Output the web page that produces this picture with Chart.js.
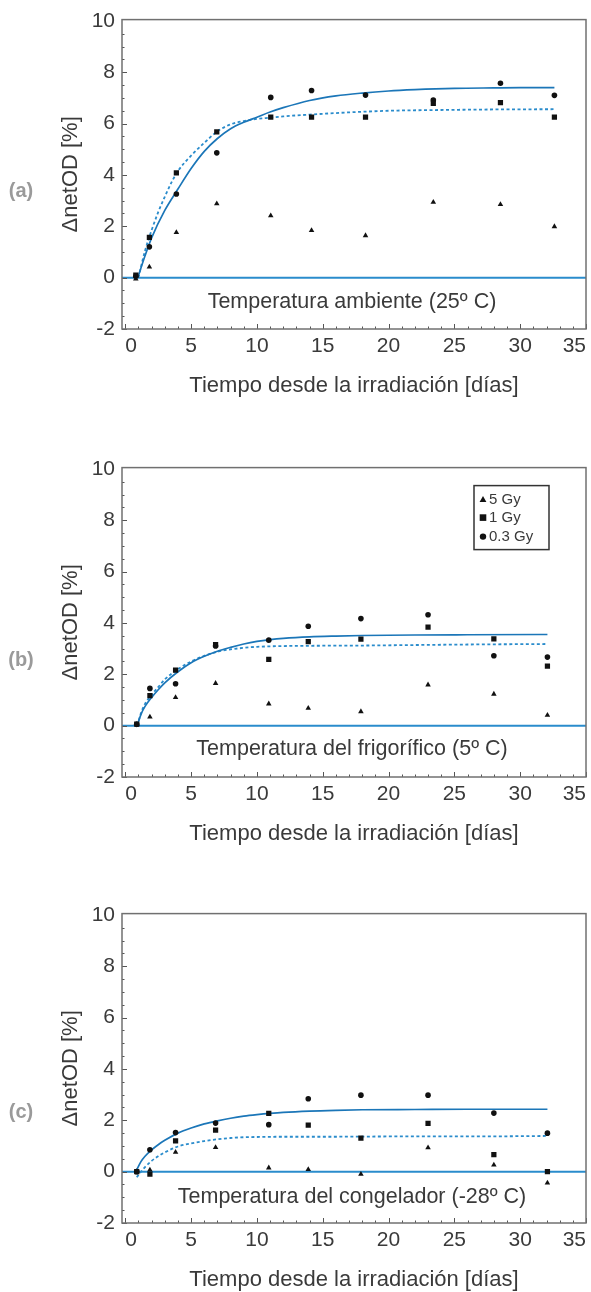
<!DOCTYPE html>
<html><head><meta charset="utf-8">
<script src="https://cdn.jsdelivr.net/npm/chart.js@4/dist/chart.umd.min.js"></script>
<style>
html,body{margin:0;padding:0;background:#fff;width:591px;height:1292px;overflow:hidden;}
canvas{position:absolute;left:0;}
</style></head><body>
<canvas id="ca" width="591" height="400" style="top:0px;width:591px;height:400px"></canvas>
<canvas id="cb" width="591" height="400" style="top:448px;width:591px;height:400px"></canvas>
<canvas id="cc" width="591" height="400" style="top:894px;width:591px;height:400px"></canvas>
<script>
// ---------- tick labels / text ----------
const xTicks = [0, 5, 10, 15, 20, 25, 30, 35];
const yTicks = [-2, 0, 2, 4, 6, 8, 10];
const seriesNames = ['5 Gy', '1 Gy', '0.3 Gy'];
const xTitle = 'Tiempo desde la irradiación [días]';
const yTitle = 'ΔnetOD [%]';

// ---------- panel (a) ----------
const daysA  = [0.8, 1.83, 3.88, 6.95, 11.05, 14.15, 18.25, 23.4, 28.5, 32.6];
const gy5A   = [-0.05, 0.42, 1.76, 2.88, 2.41, 1.84, 1.64, 2.94, 2.85, 1.99];
const gy1A   = [0.1, 1.57, 4.08, 5.68, 6.25, 6.25, 6.25, 6.79, 6.82, 6.25];
const gy03A  = [0.05, 1.2, 3.26, 4.86, 7.02, 7.29, 7.11, 6.92, 7.57, 7.1];
const fitXA03 = [0.95, 1.5, 2, 3, 4, 5, 6, 7, 8, 9, 10, 11, 12, 14, 16, 18, 20, 22, 25, 28, 30, 32.6];
const fitYA03 = [0, 0.85, 1.55, 2.62, 3.45, 4.25, 4.92, 5.42, 5.8, 6.05, 6.25, 6.45, 6.62, 6.9, 7.08, 7.19, 7.27, 7.32, 7.37, 7.39, 7.4, 7.4];
const fitXA1 = [1.0, 1.5, 2, 2.5, 3, 3.5, 4, 5, 6, 7, 8, 9, 10, 11, 12, 14, 16, 18, 20, 24, 28, 32.6];
const fitYA1 = [0, 1.05, 1.85, 2.55, 3.15, 3.7, 4.15, 4.75, 5.25, 5.7, 5.97, 6.1, 6.18, 6.23, 6.28, 6.35, 6.41, 6.46, 6.5, 6.53, 6.55, 6.56];

// ---------- panel (b) ----------
const daysB  = [0.87, 1.87, 3.82, 6.86, 10.9, 13.9, 17.9, 23.0, 28.0, 32.07];
const gy5B   = [0.05, 0.34, 1.1, 1.65, 0.85, 0.68, 0.55, 1.59, 1.23, 0.41];
const gy1B   = [0.06, 1.17, 2.16, 3.16, 2.58, 3.27, 3.37, 3.84, 3.38, 2.32];
const gy03B  = [0.05, 1.45, 1.63, 3.1, 3.33, 3.87, 4.17, 4.32, 2.72, 2.67];
const fitXB03 = [0.9, 1.2, 1.5, 2, 2.5, 3, 4, 5, 6, 7, 8, 9, 10, 11, 12, 14, 16, 18, 22, 26, 32.07];
const fitYB03 = [0, 0.45, 0.75, 1.1, 1.4, 1.67, 2.1, 2.45, 2.7, 2.9, 3.05, 3.18, 3.28, 3.35, 3.4, 3.46, 3.49, 3.51, 3.53, 3.54, 3.55];
const fitXB1 = [0.9, 1.2, 1.5, 2, 2.5, 3, 4, 5, 6, 7, 8, 9, 10, 12, 14, 18, 22, 26, 32.07];
const fitYB1 = [0, 0.5, 0.85, 1.2, 1.5, 1.8, 2.2, 2.5, 2.72, 2.88, 2.97, 3.03, 3.07, 3.1, 3.11, 3.12, 3.14, 3.16, 3.18];

// ---------- panel (c) ----------
const daysC  = [0.87, 1.87, 3.82, 6.86, 10.9, 13.9, 17.9, 23.0, 28.0, 32.07];
const gy5C   = [0.0, 0.07, 0.76, 0.94, 0.15, 0.09, -0.1, 0.93, 0.26, -0.44];
const gy1C   = [0.0, -0.1, 1.2, 1.62, 2.27, 1.81, 1.31, 1.88, 0.66, 0.0];
const gy03C  = [0.0, 0.85, 1.52, 1.89, 1.83, 2.84, 2.98, 2.98, 2.28, 1.5];
const fitXC03 = [0.8, 1.2, 1.5, 2, 2.5, 3, 4, 5, 6, 7, 8, 9, 10, 11, 12, 14, 16, 18, 22, 26, 32.07];
const fitYC03 = [0, 0.4, 0.6, 0.85, 1.05, 1.22, 1.5, 1.7, 1.86, 1.98, 2.08, 2.16, 2.22, 2.27, 2.31, 2.36, 2.39, 2.41, 2.42, 2.43, 2.43];
const fitXC1 = [0.87, 1.2, 1.5, 2, 2.5, 3, 4, 5, 6, 7, 8, 9, 10, 12, 16, 20, 26, 32.07];
const fitYC1 = [-0.22, 0.0, 0.18, 0.42, 0.6, 0.75, 0.98, 1.1, 1.19, 1.26, 1.31, 1.34, 1.35, 1.36, 1.36, 1.37, 1.37, 1.39];

// ---------- styling ----------
const FONT = "'Liberation Sans', Arial, sans-serif";
const TEXT = '#3a3a3a';
const BLUE = '#1b76b8';
const BLUE_L = '#2a8ccc';
Chart.defaults.font.family = FONT;
Chart.defaults.animation = false;

const pts = (xs, ys) => xs.map((x, i) => ({x: x, y: ys[i]}));

function drawMarker(ctx, style, x, y, r) {
  ctx.beginPath();
  if (style === 'triangle') {
    ctx.moveTo(x, y - r);
    ctx.lineTo(x + r * 0.95, y + r * 0.65);
    ctx.lineTo(x - r * 0.95, y + r * 0.65);
    ctx.closePath();
  } else if (style === 'rect') {
    ctx.rect(x - r, y - r, 2 * r, 2 * r);
  } else {
    ctx.arc(x, y, r, 0, Math.PI * 2);
  }
  ctx.fill();
}

const decor = {
  id: 'decor',
  afterDatasetsDraw(chart, args, o) {
    const {ctx, chartArea: a, scales: {x, y}} = chart;
    ctx.save();
    // inward tick marks
    ctx.strokeStyle = '#555';
    ctx.lineWidth = 1;
    ctx.beginPath();
    for (let v = 0; v <= 35; v += 1) {
      const px = Math.round(x.getPixelForValue(v)) + 0.5;
      const len = xTicks.includes(v) ? 5 : 2.5;
      ctx.moveTo(px, a.bottom);
      ctx.lineTo(px, a.bottom - len);
    }
    for (let k = 0; k < 24; k++) {
      const v = -2 + k * 0.5;
      const py = Math.round(y.getPixelForValue(v)) + 0.5;
      const len = (yTicks.includes(v) && v < 10) ? 5 : 2.5;
      ctx.moveTo(a.left, py);
      ctx.lineTo(a.left + len, py);
    }
    ctx.stroke();
    // frame
    ctx.strokeStyle = '#707070';
    ctx.lineWidth = 1.5;
    ctx.strokeRect(a.left, a.top, a.right - a.left, a.bottom - a.top);
    ctx.restore();
  },
  afterDraw(chart, args, o) {
    const {ctx, chartArea: a, scales: {y}} = chart;
    ctx.save();
    ctx.fillStyle = TEXT;
    ctx.font = '21.5px ' + FONT;
    ctx.textAlign = 'center';
    ctx.textBaseline = 'middle';
    ctx.fillText(o.note, (a.left + a.right) / 2 - 2, y.getPixelForValue(o.noteY));
    ctx.fillStyle = '#9a9a9a';
    ctx.font = 'bold 20px ' + FONT;
    ctx.fillText(o.letter, 21, o.letterY);
    if (o.legend) {
      const bx = a.right - 112, by = a.top + 18, bw = 75, bh = 64;
      ctx.fillStyle = '#fff';
      ctx.fillRect(bx, by, bw, bh);
      ctx.strokeStyle = '#333';
      ctx.lineWidth = 1.5;
      ctx.strokeRect(bx, by, bw, bh);
      const styles = ['triangle', 'rect', 'circle'];
      const rs = [3.6, 3.3, 3.2];
      const rowY = [14, 32, 51];
      ctx.font = '15px ' + FONT;
      ctx.textAlign = 'left';
      for (let i = 0; i < 3; i++) {
        ctx.fillStyle = '#111';
        drawMarker(ctx, styles[i], bx + 9, by + rowY[i], rs[i]);
        ctx.fillStyle = TEXT;
        ctx.fillText(seriesNames[i], bx + 15, by + rowY[i]);
      }
    }
    ctx.restore();
  }
};

function makeChart(id, days, g5, g1, g03, fx03, fy03, fx1, fy1, note, noteY, letter, letterY, legend) {
  const datasets = [
    {label: seriesNames[0], data: pts(days, g5), pointStyle: 'triangle', pointRadius: 3.2, backgroundColor: '#111', borderWidth: 0, showLine: false},
    {label: seriesNames[1], data: pts(days, g1), pointStyle: 'rect', pointRadius: 3.7, backgroundColor: '#111', borderWidth: 0, showLine: false},
    {label: seriesNames[2], data: pts(days, g03), pointStyle: 'circle', pointRadius: 2.8, backgroundColor: '#111', borderWidth: 0, showLine: false},
    {label: 'ajuste 0.3 Gy', data: pts(fx03, fy03), showLine: true, borderColor: BLUE, borderWidth: 1.7, pointRadius: 0, cubicInterpolationMode: 'monotone', fill: false},
    {label: 'ajuste 1 Gy', data: pts(fx1, fy1), showLine: true, borderColor: BLUE_L, borderWidth: 1.8, borderDash: [3, 2.5], pointRadius: 0, cubicInterpolationMode: 'monotone', fill: false},
    {label: 'cero', data: pts([-0.25, 35], [0, 0]), showLine: true, borderColor: BLUE_L, borderWidth: 2, pointRadius: 0, fill: false}
  ];
  return new Chart(document.getElementById(id), {
    type: 'scatter',
    data: {datasets},
    plugins: [decor],
    options: {
      responsive: false,
      devicePixelRatio: 1,
      layout: {padding: {left: 0, right: 5, top: 13, bottom: 0}},
      plugins: {
        legend: {display: false},
        tooltip: {enabled: false},
        decor: {note, noteY, letter, letterY, legend}
      },
      scales: {
        x: {
          type: 'linear', min: -0.25, max: 35,
          afterBuildTicks: s => { s.ticks = xTicks.map(v => ({value: v})); },
          afterFit: s => { s.height = 71; },
          grid: {display: false, drawTicks: false},
          border: {display: false},
          ticks: {align: 'inner', padding: 5, autoSkip: false, maxRotation: 0, color: TEXT, font: {size: 21}, callback: v => String(v)},
          title: {display: true, text: xTitle, color: TEXT, font: {size: 22}, padding: {top: 0, bottom: 0.5}}
        },
        y: {
          type: 'linear', min: -2, max: 10.05,
          afterBuildTicks: s => { s.ticks = yTicks.map(v => ({value: v})); },
          afterFit: s => { s.width = 122; },
          grid: {display: false, drawTicks: false},
          border: {display: false},
          ticks: {padding: 7, autoSkip: false, color: TEXT, font: {size: 21}, callback: v => String(v),
                  labelOffset: c => (c.tick && c.tick.value === 10 ? 10 : 0)},
          title: {display: true, text: yTitle, color: TEXT, font: {size: 22}, padding: {top: 58, bottom: 0}}
        }
      }
    }
  });
}

makeChart('ca', daysA, gy5A, gy1A, gy03A, fitXA03, fitYA03, fitXA1, fitYA1,
  'Temperatura ambiente (25º C)', -0.95, '(a)', 191, false);
makeChart('cb', daysB, gy5B, gy1B, gy03B, fitXB03, fitYB03, fitXB1, fitYB1,
  'Temperatura del frigorífico (5º C)', -0.93, '(b)', 212, true);
makeChart('cc', daysC, gy5C, gy1C, gy03C, fitXC03, fitYC03, fitXC1, fitYC1,
  'Temperatura del congelador (-28º C)', -0.98, '(c)', 218, false);
</script>
</body></html>
